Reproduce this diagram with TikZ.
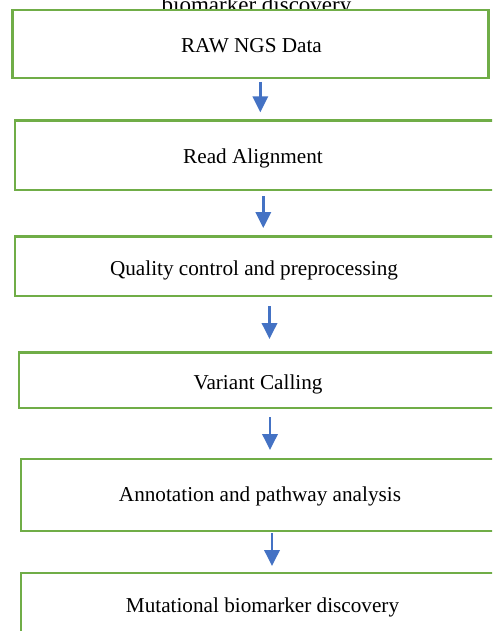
\documentclass[tikz,border=0pt]{standalone}
\usepackage{fontspec}
\setmainfont{Liberation Serif}
\usetikzlibrary{arrows.meta}
\definecolor{boxgreen}{HTML}{70AD47}
\definecolor{flowblue}{HTML}{4472C4}
\begin{document}
\begin{tikzpicture}[x=1pt, y=-1pt,
  stagebox/.style={draw=boxgreen, line width=2.7pt, fill=white, rectangle, inner sep=0pt, outer sep=0pt},
  stagetext/.style={anchor=base, inner sep=0pt, font=\fontsize{21.2}{25}\selectfont},
  flow/.style={draw=flowblue, line width=2.6pt, -{Triangle[length=16pt, width=15.3pt]}}]
  \useasboundingbox (0,0) rectangle (492,631);
  \clip (0,0) rectangle (492,631);
  \fill[white] (0,0) rectangle (492,631);

  % caption line running above the first stage
  \node[anchor=base, inner sep=0pt, font=\fontsize{23}{27}\selectfont] (cap) at (256.5,12.5) {biomarker discovery};

  % pipeline stages
  \node[stagebox, minimum width=476.2pt, minimum height=68pt]   (b1) at (250.7,44) {};
  \node[stagebox, minimum width=515pt,   minimum height=69.5pt] (b2) at (272.5,155.25) {};
  \node[stagebox, minimum width=515pt,   minimum height=59.5pt] (b3) at (272.5,266.25) {};
  \node[stagebox, minimum width=511pt,   minimum height=55.5pt] (b4) at (274.5,380.25) {};
  \node[stagebox, minimum width=509pt,   minimum height=72pt]   (b5) at (275.5,495) {};
  \node[stagebox, minimum width=509pt,   minimum height=67pt]   (b6) at (275.5,606.5) {};

  \node[stagetext] (t1) at (251.5,52.3)  {RAW NGS Data};
  \node[stagetext] (t2) at (253,163.3)   {Read Alignment};
  \node[stagetext] (t3) at (254,275.6)   {Quality control and preprocessing};
  \node[stagetext] (t4) at (258,389)     {Variant Calling};
  \node[stagetext] (t5) at (260,501)     {Annotation and pathway analysis};
  \node[stagetext] (t6) at (262.5,612.7) {Mutational biomarker discovery};

  % arrows between consecutive stages
  \draw[flow, shorten <=4pt,    shorten >=8.2pt]  (b1.south -| 260.3,0) -- (b2.north -| 260.3,0);
  \draw[flow, shorten <=6pt,    shorten >=8.5pt]  (b2.south -| 263.3,0) -- (b3.north -| 263.3,0);
  \draw[flow, shorten <=10pt,   shorten >=13.5pt] (b3.south -| 269.5,0) -- (b4.north -| 269.5,0);
  \draw[flow, shorten <=9pt,    shorten >=9pt]    (b4.south -| 270,0)   -- (b5.north -| 270,0);
  \draw[flow, shorten <=2pt,    shorten >=7pt]    (b5.south -| 272,0)   -- (b6.north -| 272,0);
\end{tikzpicture}
\end{document}
